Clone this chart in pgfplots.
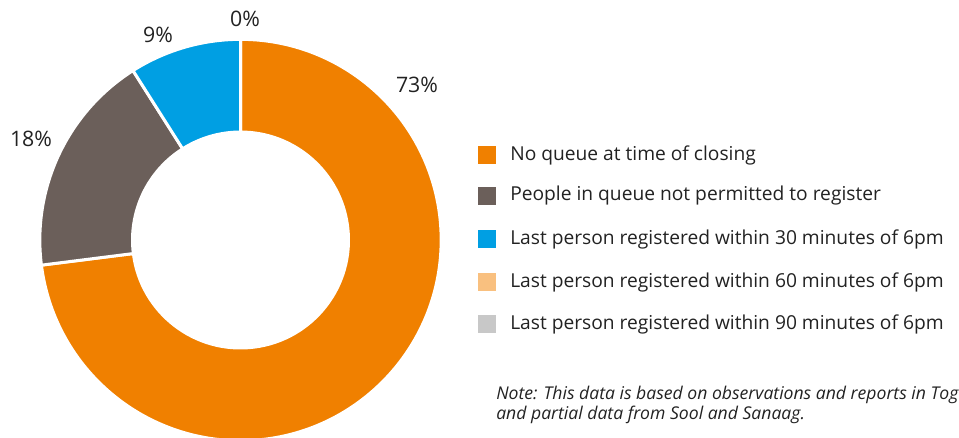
\documentclass[border=0pt]{standalone}
\usepackage{pgfplots}
\pgfplotsset{compat=1.18}
\usepackage{fontspec}
\setmainfont{Open Sans}
\usetikzlibrary{calc}
\definecolor{qorange}{HTML}{F08000}
\definecolor{qgray}{HTML}{6B5F5A}
\definecolor{qblue}{HTML}{009FE3}
\definecolor{qlorange}{HTML}{F9C07F}
\definecolor{qlgray}{HTML}{C8C8C8}
\definecolor{qtext}{HTML}{222222}
% slice: start percent, percent, colour  (centre 240.5,197 px; radii in pt, 1px = 0.75pt)
\newcommand\slice[3]{%
  \fill[#3, draw=white, line width=2.25pt]
    ($(axis cs:240.5,197)+({90-3.6*#1}:150.5pt)$)
    arc[start angle={90-3.6*#1}, end angle={90-3.6*(#1+#2)}, radius=150.5pt]
    -- ($(axis cs:240.5,197)+({90-3.6*(#1+#2)}:81pt)$)
    arc[start angle={90-3.6*(#1+#2)}, end angle={90-3.6*#1}, radius=81pt]
    -- cycle;}
\newcommand\legitem[3]{%
  \fill[#2] (axis cs:478,#1-9) rectangle (axis cs:496,#1+9);
  \node[anchor=west, inner sep=0pt, text=qtext, font=\fontsize{14.4pt}{17pt}\selectfont] at (axis cs:510,#1) {#3};}
\begin{document}
\begin{tikzpicture}
\path[use as bounding box, clip] (0,0) rectangle (719.25pt,327.75pt);
\begin{axis}[
  at={(0,0)}, anchor=south west,
  x=0.75pt, y=0.75pt, scale only axis,
  xmin=0, xmax=959, ymin=0, ymax=437,
  hide axis, clip=false]
% values (percent): 73, 18, 9, 0, 0
\slice{0}{73}{qorange}
\slice{73}{18}{qgray}
\slice{91}{9}{qblue}
\begin{scope}[font=\fontsize{16pt}{18pt}\selectfont, text=qtext]
\node at (axis cs:417,352) {73\%};
\node at (axis cs:31,298) {18\%};
\node at (axis cs:158,402) {9\%};
\node at (axis cs:245,418) {0\%};
\end{scope}
\legitem{282}{qorange}{No queue at time of closing}
\legitem{241}{qgray}{People in queue not permitted to register}
\legitem{198}{qblue}{Last person registered within 30 minutes of 6pm}
\legitem{155}{qlorange}{Last person registered within 60 minutes of 6pm}
\legitem{113}{qlgray}{Last person registered within 90 minutes of 6pm}
\node[anchor=west, inner sep=0pt, text=qtext, align=left, font=\fontsize{13.2pt}{15pt}\selectfont\itshape] at (axis cs:496,32)
  {Note: This data is based on observations and reports in Togdheer\\and partial data from Sool and Sanaag.};
\end{axis}
\end{tikzpicture}
\end{document}
